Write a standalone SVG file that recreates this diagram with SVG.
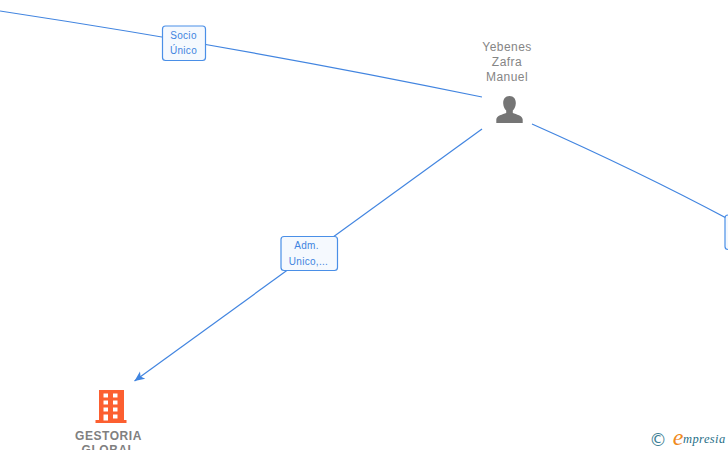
<svg xmlns="http://www.w3.org/2000/svg" width="728" height="450" viewBox="0 0 728 450">
<defs>
<style>
.edge{fill:none;stroke:#4285e0;stroke-width:1.2}
.box{fill:#f5f9fe;stroke:#4a8fe7;stroke-width:1.2}
.lbl{font-family:"Liberation Sans",sans-serif;font-size:10px;fill:#3f84e0;text-anchor:middle;letter-spacing:.3px}
.name{font-family:"Liberation Sans",sans-serif;font-size:12px;fill:#858585;text-anchor:middle;letter-spacing:.45px}
.co{font-family:"Liberation Sans",sans-serif;font-size:12px;font-weight:bold;fill:#808080;text-anchor:middle;letter-spacing:.55px}
</style>
<marker id="arr" markerUnits="userSpaceOnUse" markerWidth="12" markerHeight="10" refX="10.500" refY="5" orient="auto"><path d="M.5 .5L10.500 5L.5 9.500L3 5Z" fill="#3f84e0"/></marker>
</defs>
<rect width="728" height="450" fill="#fff"/>
<g id="connectors">
<path class="edge" d="M0 11Q250 49 482 97"/>
<path class="edge" d="M532 124Q640 172 728 219"/>
<path class="edge" d="M482 129L134.500 381" marker-end="url(#arr)"/>
</g>
<g id="edge-label-socio">
<rect class="box" x="162.500" y="26" width="43" height="34.500" rx="3"/>
<text class="lbl" x="183.500" y="39">Socio</text>
<text class="lbl" x="183.500" y="54">Único</text>
</g>
<g id="edge-label-adm">
<rect class="box" x="281" y="236.500" width="56.500" height="34" rx="3"/>
<text class="lbl" x="306.500" y="249">Adm.</text>
<text class="lbl" x="308.500" y="265">Unico,...</text>
</g>
<g id="edge-label-right">
<rect class="box" x="725" y="215" width="10" height="34.500" rx="3"/>
</g>
<g id="node-person">
<text class="name" x="507" y="51">Yebenes</text>
<text class="name" x="507" y="66">Zafra</text>
<text class="name" x="507" y="81">Manuel</text>
<path fill="#757575" d="M509.500 96c-4.500 0-6.500 3.500-6.300 7.500c.2 3 1.300 5.500 3 7v2.500c-3.500 1.500-9.700 2.500-9.900 6.500v3.500h26.400v-3.500c-.2-4-6.400-5-9.900-6.500v-2.500c1.700-1.500 2.800-4 3-7c.2-4-1.800-7.500-6.300-7.500Z"/>
</g>
<g id="node-company">
<path fill="#fc5f30" fill-rule="evenodd" d="M99 390H124V420H126.500V423H95.500V420H99ZM103.500 393.500v4h4.500v-4ZM113 393.500v4h4.500v-4ZM103.500 400.500v4h4.500v-4ZM113 400.500v4h4.500v-4ZM103.500 407.500v4h4.500v-4ZM113 407.500v4h4.500v-4ZM103.500 414.500v6h4.500v-6ZM113 414.500v4h4.500v-4Z"/>
<text class="co" x="108.500" y="440">GESTORIA</text>
<text class="co" x="108.500" y="454">GLOBAL</text>
</g>
<g id="logo">
<text x="658" y="446" font-family="'DejaVu Sans',sans-serif" font-size="17.500" fill="#3d7f95" text-anchor="middle">©</text>
<text x="678" y="445" font-family="'Liberation Serif',serif" font-size="24" font-style="italic" fill="#f08a1d" text-anchor="middle">e</text>
<text x="683" y="443" font-family="'Liberation Serif',serif" font-size="12.500" font-style="italic" fill="#1f6f87" letter-spacing=".4">mpresia</text>
</g>
</svg>
